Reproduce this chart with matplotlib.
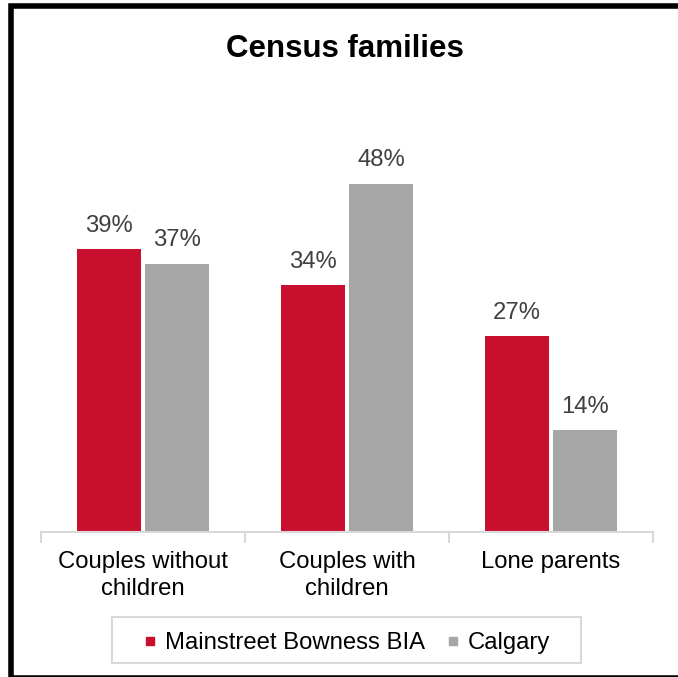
import numpy as np
import matplotlib
matplotlib.use("Agg")
import matplotlib.pyplot as plt
from matplotlib.patches import Rectangle
from matplotlib.lines import Line2D

plt.rcParams['font.family'] = ['Liberation Sans', 'DejaVu Sans']

categories = ["Couples without\nchildren", "Couples with\nchildren", "Lone parents"]
bia_values = [39, 34, 27]
calgary_values = [37, 48, 14]
series_names = ["Mainstreet Bowness BIA", "Calgary"]

red = "#C8102E"
gray = "#A6A6A6"
axis_gray = "#D9D9D9"
W, H = 678, 677

fig = plt.figure(figsize=(6.78, 6.77), dpi=100)
ax = fig.add_axes([0.0605, 0.2142, 0.9027, 0.5569])

x = np.arange(len(categories))
w = 0.31
off = 0.167
b1 = ax.bar(x - off, bia_values, w, color=red)
b2 = ax.bar(x + off, calgary_values, w, color=gray)

for bars, vals in ((b1, bia_values), (b2, calgary_values)):
    for rect, v in zip(bars, vals):
        ax.annotate(f"{v}%", (rect.get_x() + rect.get_width() / 2, rect.get_height()),
                    xytext=(0, 9), textcoords="offset points", ha="center", va="bottom",
                    fontsize=17.2, color="#404040", annotation_clip=False)

ax.set_xlim(-0.5, 2.5)
ax.set_ylim(0, 52)
for s in ("top", "right", "left"):
    ax.spines[s].set_visible(False)
ax.spines["bottom"].set_color(axis_gray)
ax.spines["bottom"].set_linewidth(1.5)
ax.set_yticks([])
ax.set_xticks(x)
ax.set_xticklabels(categories, fontsize=17.2, linespacing=1.25)
ax.tick_params(axis="x", which="major", length=0, pad=14)
ax.set_xticks([-0.5, 0.5, 1.5, 2.5], minor=True)
ax.tick_params(axis="x", which="minor", length=8, width=1.5, color=axis_gray, direction="out")

fig.text(0.509, 0.928, "Census families", ha="center", va="center",
         fontsize=22.5, fontweight="bold")

# legend box drawn separately, legend itself without frame
fig.add_artist(Rectangle((112 / W, (H - 663) / H), (581 - 112) / W, 46 / H,
                         transform=fig.transFigure, fill=False,
                         edgecolor=axis_gray, linewidth=1.5))
handles = [Line2D([], [], marker="s", linestyle="none", color=red, markersize=6),
           Line2D([], [], marker="s", linestyle="none", color=gray, markersize=6)]
fig.legend(handles, series_names, loc="center", bbox_to_anchor=(0.511, 0.0502),
           ncol=2, fontsize=17.2, frameon=False, handlelength=0.6,
           handletextpad=0.3, columnspacing=0.9)

fig.add_artist(Rectangle((10.5 / W, -1 / H), 1.0, 672 / H, transform=fig.transFigure,
                         fill=False, edgecolor="black", linewidth=4, clip_on=False))

fig.savefig("out.png", dpi=100)
